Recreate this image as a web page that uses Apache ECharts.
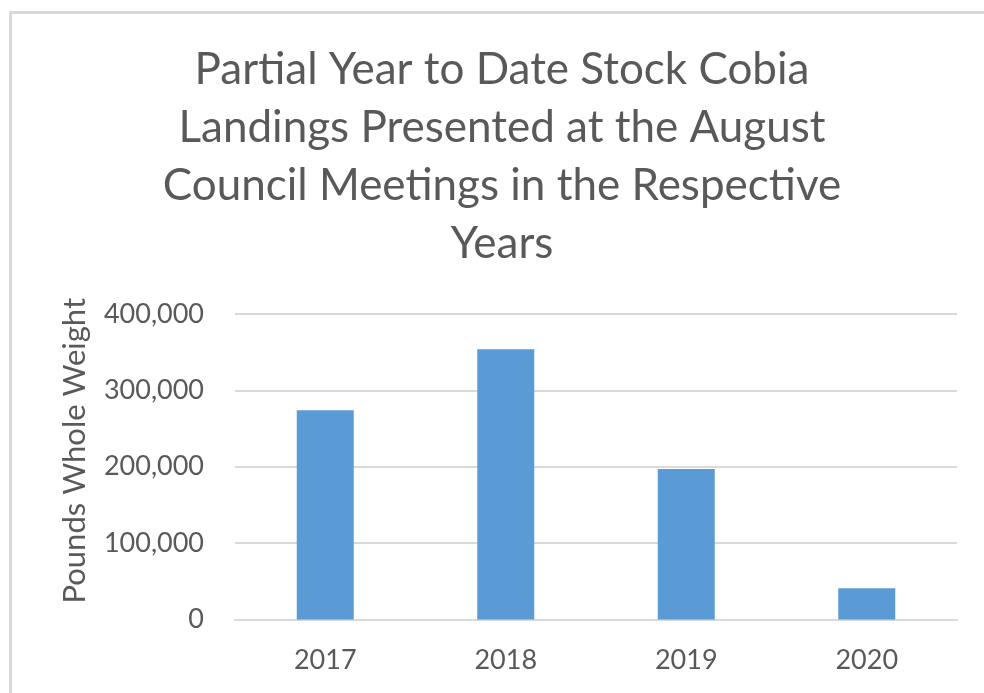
<!DOCTYPE html>
<html>
<head>
<meta charset="utf-8">
<style>html,body{margin:0;padding:0;background:#fff;}#c{width:984px;height:693px;}</style>
<script src="https://cdn.jsdelivr.net/npm/echarts@6/dist/echarts.min.js"></script>
</head>
<body>
<div id="c"></div>
<script>
const categories = ['2017', '2018', '2019', '2020'];
const landings = [274000, 354000, 197000, 41000];
const yTicks = [0, 100000, 200000, 300000, 400000];
const titleText = 'Partial Year to Date Stock Cobia\nLandings Presented at the August\nCouncil Meetings in the Respective\nYears';
const yAxisName = 'Pounds Whole Weight';

const chart = echarts.init(document.getElementById('c'), null, {renderer: 'canvas'});
const FONT = 'Lato, "Open Sans", sans-serif';
chart.setOption({
  animation: false,
  backgroundColor: '#ffffff',
  graphic: [{
    type: 'rect', left: 8, top: 10, silent: true,
    shape: {width: 1000, height: 720},
    style: {fill: 'none', stroke: '#d9d9d9', lineWidth: 3}
  }, {
    type: 'text', x: 502, y: 41, silent: true,
    style: {
      text: titleText, fill: '#595959', font: '44px ' + FONT,
      fontSize: 44, fontFamily: FONT, lineHeight: 58,
      align: 'center', verticalAlign: 'top'
    }
  }],
  grid: {left: 235, right: 27, top: 314, bottom: 73.5, containLabel: false},
  xAxis: {
    type: 'category',
    data: categories,
    axisLine: {lineStyle: {color: '#d9d9d9', width: 2}},
    axisTick: {show: false},
    axisLabel: {color: '#595959', fontFamily: FONT, fontSize: 27, margin: 27}
  },
  yAxis: {
    type: 'value',
    min: yTicks[0],
    max: yTicks[yTicks.length - 1],
    interval: yTicks[1] - yTicks[0],
    name: yAxisName,
    nameLocation: 'middle',
    nameRotate: 90,
    nameGap: 145,
    nameTextStyle: {color: '#595959', fontFamily: FONT, fontSize: 31, padding: [0, 0, 0, 32]},
    axisLine: {show: false},
    axisTick: {show: false},
    splitLine: {lineStyle: {color: '#d9d9d9', width: 2}},
    axisLabel: {
      color: '#595959', fontFamily: FONT, fontSize: 27, margin: 31,
      formatter: v => v.toLocaleString('en-US')
    }
  },
  series: [{
    type: 'bar',
    data: landings,
    barWidth: 57,
    itemStyle: {color: '#5b9bd5'}
  }]
});
</script>
</body>
</html>
